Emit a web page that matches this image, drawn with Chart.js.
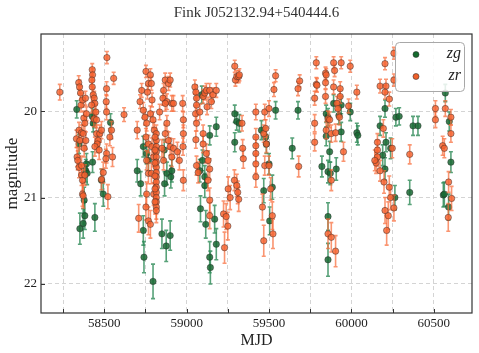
<!DOCTYPE html>
<html>
<head>
<meta charset="utf-8">
<script src="https://cdn.jsdelivr.net/npm/chart.js@4.4.0/dist/chart.umd.min.js"></script>
<style>
  html, body { margin: 0; padding: 0; background: #fff; }
  #wrap { width: 479px; height: 353px; }
</style>
</head>
<body>
<div id="wrap"><canvas id="lc"></canvas></div>
<script>
// rows: [mjd, magnitude, error]
const zgRows = [
  [58333,19.98,0.1],[58347,20.38,0.11],[58392,20.61,0.12],[58388,20.69,0.13],[58396,20.72,0.13],
  [58378,21.03,0.15],[58382,21.21,0.16],[58372,21.3,0.17],[58352,21.36,0.18],
  [58427,20.06,0.1],[58433,20.14,0.1],[58439,20.09,0.1],[58443,21.23,0.16],[58483,20.8,0.13],
  [58494,20.96,0.14],[58429,20.59,0.12],[58538,20.13,0.1],
  [58700,20.69,0.13],[58721,20.84,0.14],[58737,21.38,0.17],[58741,21.69,0.18],
  [58737,20.41,0.12],[58757,20.49,0.12],[58768,20.57,0.12],[58796,21.97,0.2],
  [58864,20.45,0.12],[58880,20.72,0.13],[58904,20.76,0.13],[58910,20.69,0.13],[58866,20.84,0.14],
  [58850,21.42,0.17],[58876,21.56,0.18],[58900,21.44,0.17],
  [59092,19.81,0.1],[59140,20.28,0.11],[59180,20.18,0.11],[59096,20.57,0.12],[59080,20.69,0.13],
  [59110,20.86,0.14],[59084,21.13,0.15],[59116,21.31,0.16],[59170,21.25,0.16],[59180,21.54,0.18],
  [59140,21.69,0.18],[59144,21.81,0.19],[59110,20.76,0.13],
  [59292,20.03,0.1],[59292,20.36,0.11],[59304,20.12,0.1],[59320,20.14,0.1],
  [59454,20.22,0.11],[59480,20.3,0.11],[59484,20.38,0.11],[59500,20.61,0.12],[59468,20.92,0.14],
  [59504,21.27,0.16],[59520,20.88,0.14],[59540,19.99,0.1],
  [59641,20.43,0.12],[59676,19.99,0.1],
  [59847,20.03,0.1],[59858,20.07,0.1],[59892,19.91,0.1],[59938,19.93,0.1],[59924,20.05,0.1],
  [59938,20.24,0.11],[59847,20.29,0.11],[59868,20.47,0.12],[59821,20.64,0.12],[59858,20.7,0.13],
  [59872,20.72,0.13],[59908,20.67,0.13],[59858,21.22,0.16],[59858,21.72,0.19],
  [59993,20.01,0.1],[60033,20.25,0.11],[60039,20.28,0.11],
  [60204,19.97,0.1],[60174,20.17,0.11],[60210,20.36,0.11],[60190,20.51,0.12],[60204,20.67,0.13],
  [60238,20.43,0.12],[60264,21.0,0.14],[60270,20.07,0.1],[60290,20.06,0.1],[60354,20.94,0.14],
  [60374,20.17,0.11],[60404,20.17,0.11],
  [60570,19.79,0.1],[60594,20.12,0.11],[60604,20.59,0.12],[60558,20.97,0.14],[60564,20.96,0.14],
  [60590,21.11,0.15]
];

const zrRows = [
  [58230,19.78,0.09],
  [58345,19.67,0.08],[58356,19.79,0.08],[58350,19.72,0.08],[58359,19.93,0.08],[58368,19.87,0.08],
  [58376,20.08,0.08],[58382,20.14,0.09],[58392,20.03,0.08],[58386,19.85,0.08],
  [58331,20.32,0.1],[58347,20.22,0.09],[58352,20.34,0.1],[58362,20.25,0.09],[58372,20.26,0.1],
  [58378,20.43,0.1],[58388,20.34,0.1],
  [58335,20.53,0.11],[58339,20.57,0.11],[58347,20.65,0.12],[58362,20.74,0.12],[58368,20.8,0.12],
  [58368,20.96,0.14],[58372,20.98,0.14],[58382,20.74,0.12],[58362,20.63,0.11],
  [58427,19.52,0.07],[58429,19.58,0.07],[58425,19.64,0.07],[58427,19.72,0.08],[58433,19.81,0.08],
  [58439,19.85,0.08],[58443,19.91,0.08],[58423,19.93,0.09],[58449,20.01,0.09],[58437,20.09,0.09],
  [58453,20.1,0.09],[58453,20.26,0.1],[58463,20.34,0.1],[58457,20.38,0.1],[58443,20.41,0.11],
  [58473,20.26,0.1],[58469,20.45,0.11],[58483,20.22,0.1],[58494,20.71,0.12],[58483,20.79,0.12],
  [58516,19.38,0.07],[58514,19.74,0.08],[58512,19.89,0.08],[58514,20.01,0.09],[58534,20.3,0.1],
  [58514,20.49,0.11],[58510,20.55,0.11],[58550,20.53,0.11],[58557,19.62,0.07],[58522,20.99,0.14],
  [58544,20.22,0.1],[58620,20.04,0.08],
  [58700,20.22,0.1],[58709,21.24,0.16],[58717,19.89,0.08],[58727,19.76,0.08],[58737,19.99,0.09],
  [58753,19.54,0.07],[58768,19.68,0.08],[58762,19.78,0.08],[58747,20.07,0.09],[58757,20.14,0.09],
  [58753,20.3,0.1],[58768,20.38,0.1],[58757,20.57,0.11],[58768,20.72,0.12],[58757,20.96,0.14],
  [58753,21.11,0.15],[58768,21.27,0.16],
  [58780,19.58,0.07],[58786,19.68,0.08],[58790,19.87,0.08],[58780,20.03,0.09],[58796,20.1,0.09],
  [58804,20.22,0.1],[58790,20.41,0.1],[58800,20.53,0.11],[58786,20.72,0.12],[58800,20.96,0.13],
  [58780,21.31,0.16],
  [58816,20.26,0.1],[58816,20.34,0.1],[58816,20.41,0.1],[58816,20.47,0.11],[58816,20.53,0.11],
  [58816,20.59,0.11],[58816,20.65,0.12],[58816,20.71,0.12],[58816,20.76,0.12],[58816,20.82,0.12],
  [58816,20.88,0.13],[58816,20.94,0.13],[58816,21.0,0.13],[58816,21.05,0.14],[58816,21.11,0.14],
  [58816,21.15,0.14],
  [58808,20.3,0.1],[58808,20.45,0.11],[58808,20.6,0.11],[58808,20.75,0.12],[58808,20.9,0.13],
  [58808,21.05,0.14],
  [58860,19.76,0.08],[58870,19.64,0.08],[58890,19.68,0.08],[58900,19.64,0.08],[58856,19.85,0.08],
  [58880,19.89,0.09],[58870,19.91,0.09],[58910,19.91,0.09],[58920,19.91,0.09],[58880,20.14,0.09],
  [58870,20.26,0.1],[58890,20.34,0.1],[58900,20.41,0.1],[58910,20.53,0.11],[58920,20.43,0.11],
  [58850,20.43,0.1],[58860,20.57,0.11],[58836,20.01,0.09],
  [58944,20.47,0.11],[58956,20.57,0.11],[58976,19.91,0.09],[58980,20.1,0.09],[58980,20.26,0.1],
  [58978,20.41,0.1],[58980,20.8,0.12],
  [59050,19.72,0.08],[59056,19.78,0.08],[59060,19.85,0.08],[59060,19.93,0.09],[59054,20.03,0.09],
  [59060,20.14,0.09],[59080,20.01,0.09],[59100,19.83,0.08],[59110,19.79,0.08],[59120,19.76,0.08],
  [59140,19.76,0.08],[59160,19.81,0.08],[59180,19.76,0.08],[59150,19.89,0.08],[59124,19.95,0.09],
  [59100,20.26,0.1],[59100,20.38,0.1],[59060,20.63,0.11],[59070,20.71,0.12],[59120,20.49,0.11],
  [59130,20.57,0.11],[59140,20.67,0.12],[59130,20.8,0.12],[59140,21.03,0.14],[59140,21.21,0.15],
  [59056,20.33,0.1],
  [59224,21.19,0.15],[59240,21.22,0.15],[59250,21.33,0.16],[59230,21.58,0.18],[59252,20.9,0.14],
  [59264,21.0,0.14],[59290,20.8,0.12],[59304,20.86,0.13],[59310,20.94,0.13],[59316,21.02,0.14],
  [59292,19.48,0.07],[59296,19.64,0.07],[59304,19.6,0.07],[59316,19.6,0.07],[59320,19.58,0.07],
  [59336,20.14,0.09],[59340,20.43,0.1],[59344,20.55,0.11],
  [59420,20.01,0.09],[59420,20.3,0.1],[59420,20.4,0.1],[59420,20.49,0.11],[59420,20.61,0.11],
  [59420,20.76,0.12],
  [59474,20.01,0.09],[59500,19.97,0.09],[59468,20.26,0.1],[59480,20.2,0.1],[59484,20.38,0.1],
  [59474,20.63,0.11],[59500,20.63,0.11],[59460,21.11,0.15],[59468,21.5,0.18],[59520,21.21,0.16],
  [59524,21.42,0.17],[59510,20.9,0.13],[59530,19.75,0.08],[59540,19.59,0.07],
  [59676,19.74,0.08],[59686,19.65,0.07],[59680,20.64,0.12],
  [59787,19.44,0.07],[59843,19.56,0.07],[59847,19.58,0.07],[59892,19.44,0.07],[59898,19.53,0.07],
  [59938,19.44,0.07],[59993,19.48,0.07],[59787,19.69,0.08],[59791,19.7,0.08],[59777,19.85,0.08],
  [59843,19.83,0.08],[59892,19.72,0.08],[59932,19.74,0.08],[59932,19.83,0.08],[59912,19.91,0.08],
  [59918,19.97,0.09],[59928,20.07,0.09],[59983,19.94,0.08],[59777,20.14,0.1],[59777,20.36,0.1],
  [59858,20.09,0.09],[59868,20.1,0.09],[59847,20.22,0.1],[59878,20.26,0.1],[59904,20.25,0.1],
  [59952,20.47,0.11],[59878,20.8,0.12],[59858,21.42,0.17],[59878,21.46,0.17],[59904,21.62,0.18],
  [59843,19.67,0.07],[60033,19.78,0.08],
  [60204,19.45,0.07],[60174,19.71,0.08],[60210,19.71,0.08],[60204,19.78,0.08],[60230,19.86,0.08],
  [60194,20.2,0.1],[60158,20.36,0.1],[60158,20.45,0.11],[60158,20.53,0.11],[60150,20.6,0.12],
  [60174,20.69,0.12],[60198,20.82,0.13],[60230,20.88,0.13],[60238,21.0,0.14],[60204,21.15,0.15],
  [60224,21.21,0.16],[60214,21.38,0.17],[60258,21.12,0.15],[60248,20.43,0.11],[60258,19.33,0.07],
  [60258,19.64,0.07],[60142,20.57,0.12],[60354,20.5,0.11],
  [60510,19.97,0.09],[60510,20.1,0.09],[60570,19.97,0.09],[60604,20.07,0.09],[60604,20.26,0.1],
  [60554,20.4,0.11],[60564,20.43,0.11],[60590,20.82,0.12],[60608,21.01,0.14],[60588,21.23,0.16]
];

const xGridValues = [58250, 58500, 58750, 59000, 59250, 59500, 59750, 60000, 60250, 60500];
const xTickLabels = ['58500', '59000', '59500', '60000', '60500'];
const yTickValues = [20, 21, 22];

const serif = "'Liberation Serif', 'Times New Roman', serif";
const toPoints = rows => rows.map(r => ({ x: r[0], y: r[1], err: r[2] }));

// error bars, drawn just before each dataset's markers
const errorBars = {
  id: 'errorBars',
  beforeDatasetDraw(chart, args) {
    const ds = chart.data.datasets[args.index];
    const { ctx, chartArea: a, scales: { x, y } } = chart;
    ctx.save();
    ctx.beginPath();
    ctx.rect(a.left, a.top, a.right - a.left, a.bottom - a.top);
    ctx.clip();
    ctx.strokeStyle = ds.errColor;
    ctx.lineWidth = 1.6;
    ds.data.forEach(p => {
      const px = x.getPixelForValue(p.x);
      const y1 = y.getPixelForValue(p.y - p.err);
      const y2 = y.getPixelForValue(p.y + p.err);
      ctx.beginPath();
      ctx.moveTo(px, y1); ctx.lineTo(px, y2);
      ctx.moveTo(px - 2, y1); ctx.lineTo(px + 2, y1);
      ctx.moveTo(px - 2, y2); ctx.lineTo(px + 2, y2);
      ctx.stroke();
    });
    ctx.restore();
  }
};

// frame, inward ticks and legend box
const frameAndLegend = {
  id: 'frameAndLegend',
  afterDraw(chart) {
    const { ctx, chartArea: a, scales: { x, y } } = chart;
    ctx.save();
    ctx.strokeStyle = '#333';
    ctx.lineWidth = 1;
    xGridValues.forEach(v => {
      const px = Math.round(x.getPixelForValue(v)) + 0.5;
      ctx.beginPath(); ctx.moveTo(px, a.bottom); ctx.lineTo(px, a.bottom - 4); ctx.stroke();
    });
    yTickValues.forEach(v => {
      const py = Math.round(y.getPixelForValue(v)) + 0.5;
      ctx.beginPath(); ctx.moveTo(a.left, py); ctx.lineTo(a.left + 4, py); ctx.stroke();
    });
    ctx.lineWidth = 1.2;
    ctx.strokeRect(a.left, a.top, a.right - a.left, a.bottom - a.top);

    // legend
    const lx = 395.5, ly = 42.5, lw = 69, lh = 49;
    ctx.beginPath();
    ctx.roundRect(lx, ly, lw, lh, 4);
    ctx.fillStyle = 'rgba(255,255,255,0.85)';
    ctx.fill();
    ctx.strokeStyle = '#a8a8a8';
    ctx.lineWidth = 1;
    ctx.stroke();
    const items = chart.data.datasets.map(ds => ds).sort((p, q) => p.legendRank - q.legendRank);
    items.forEach((ds, i) => {
      const cy = 54.5 + i * 22;
      ctx.beginPath();
      ctx.arc(416, cy, 3, 0, Math.PI * 2);
      ctx.fillStyle = ds.legendColor;
      ctx.fill();
      ctx.strokeStyle = 'rgba(40,40,40,0.7)';
      ctx.lineWidth = 0.8;
      ctx.stroke();
      ctx.fillStyle = '#222';
      ctx.font = 'italic 16px ' + serif;
      ctx.textAlign = 'right';
      ctx.textBaseline = 'middle';
      ctx.fillText(ds.label, 461, cy - 1);
    });
    ctx.restore();
  }
};

new Chart(document.getElementById('lc'), {
  type: 'scatter',
  data: {
    datasets: [
      {
        label: 'zg', legendRank: 0, order: 2,
        data: toPoints(zgRows),
        backgroundColor: 'rgba(25,105,50,0.85)',
        borderColor: 'rgba(40,40,40,0.55)',
        borderWidth: 0.8,
        pointRadius: 3.2,
        errColor: 'rgba(46,139,87,0.8)',
        legendColor: '#146b2e'
      },
      {
        label: 'zr', legendRank: 1, order: 1,
        data: toPoints(zrRows),
        backgroundColor: 'rgba(245,98,46,0.82)',
        borderColor: 'rgba(40,40,40,0.55)',
        borderWidth: 0.8,
        pointRadius: 3.2,
        errColor: 'rgba(248,108,58,0.72)',
        legendColor: '#f0602a'
      }
    ]
  },
  options: {
    responsive: true,
    maintainAspectRatio: false,
    animation: false,
    layout: { padding: { left: 0, right: 7, top: 0, bottom: 0 } },
    plugins: {
      legend: { display: false },
      tooltip: { enabled: false },
      title: {
        display: true,
        text: 'Fink J052132.94+540444.6',
        fullSize: false,
        color: '#333',
        font: { family: serif, size: 15, weight: 'normal' },
        padding: { top: 4, bottom: 12 }
      }
    },
    scales: {
      x: {
        type: 'linear',
        min: 58116,
        max: 60732,
        afterBuildTicks: s => { s.ticks = xGridValues.map(v => ({ value: v })); },
        afterFit: s => { s.height = 40; },
        ticks: {
          autoSkip: false,
          maxRotation: 0,
          padding: 3,
          color: '#222',
          font: { family: serif, size: 13 },
          callback: v => xTickLabels.includes(String(v)) ? String(v) : ''
        },
        grid: { color: '#cfcfcf', lineWidth: 0.9, drawTicks: false },
        border: { display: false, dash: [4, 3] },
        title: {
          display: true, text: 'MJD', color: '#222',
          font: { family: serif, size: 16 },
          padding: { top: 0, bottom: 3 }
        }
      },
      y: {
        type: 'linear',
        reverse: true,
        min: 19.107,
        max: 22.336,
        afterBuildTicks: s => { s.ticks = yTickValues.map(v => ({ value: v })); },
        afterFit: s => { s.width = 41; },
        ticks: {
          padding: 4,
          color: '#222',
          font: { family: serif, size: 13 },
          callback: v => String(v)
        },
        grid: { color: '#cfcfcf', lineWidth: 0.9, drawTicks: false },
        border: { display: false, dash: [4, 3] },
        title: {
          display: true, text: 'magnitude', color: '#222',
          font: { family: serif, size: 17 },
          padding: { top: 2, bottom: 0 }
        }
      }
    }
  },
  plugins: [errorBars, frameAndLegend]
});
</script>
</body>
</html>
